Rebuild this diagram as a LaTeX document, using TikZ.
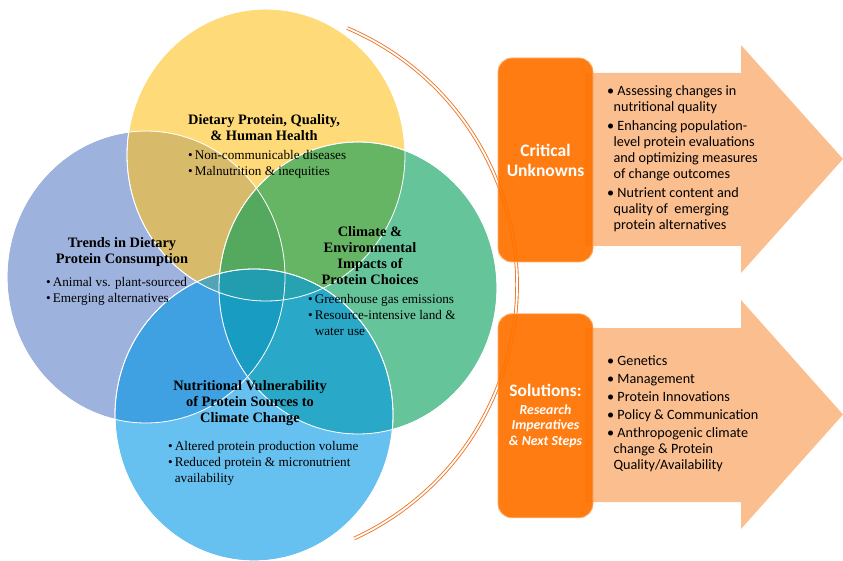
\documentclass[tikz,border=0pt]{standalone}
\usepackage{fontspec}
\setmainfont{Liberation Serif}
\newfontfamily\calibri{Carlito}
\usetikzlibrary{positioning}

\definecolor{vpurple}{RGB}{93,127,200}
\definecolor{vyellow}{RGB}{255,193,30}
\definecolor{vgreen}{RGB}{0,157,88}
\definecolor{vblue}{RGB}{0,150,230}
\definecolor{boxorange}{RGB}{255,114,0}
\definecolor{boxedge}{RGB}{255,175,110}
\definecolor{peach}{RGB}{251,190,143}
\definecolor{arcorange}{RGB}{240,118,40}

\newcommand{\bul}{\textbullet\hspace{2pt}}
\newcommand{\bulgap}{\hphantom{\textbullet\hspace{2pt}}}

\begin{document}
\begin{tikzpicture}[x=1pt, y=-1pt,
  venn/.style={draw=white, line width=0.8pt, fill opacity=0.6},
  title/.style={font=\fontsize{14.4}{16}\selectfont\bfseries, align=center, inner sep=0pt},
  bullets/.style={font=\fontsize{13.2}{15.7}\selectfont, align=left, anchor=west, inner sep=0pt},
  orgbox/.style={rectangle, draw=boxedge, line width=0.8pt, fill=boxorange, fill opacity=0.93, text opacity=1, text=white, rounded corners=14pt, minimum width=95pt, minimum height=204pt, align=center, font=\calibri\bfseries},
  list/.style={font=\calibri\fontsize{14.2}{16}\selectfont, align=left, anchor=west, inner sep=0pt},
  bracket/.style={draw=arcorange, line width=0.9pt, double=white, double distance=1.8pt}
]
\useasboundingbox (0,0) rectangle (843,561);

% Venn circles
\fill[venn, fill=vpurple] (146,277) ellipse [x radius=139, y radius=146];
\fill[venn, fill=vyellow] (266,155) ellipse [x radius=139, y radius=146];
\fill[venn, fill=vgreen] (358,288) ellipse [x radius=139, y radius=146];
\fill[venn, fill=vblue] (254,415) ellipse [x radius=139, y radius=146];
\draw[white, line width=0.8pt] (146,277) ellipse [x radius=139, y radius=146];
\draw[white, line width=0.8pt] (266,155) ellipse [x radius=139, y radius=146];
\draw[white, line width=0.8pt] (358,288) ellipse [x radius=139, y radius=146];
\draw[white, line width=0.8pt] (254,415) ellipse [x radius=139, y radius=146];

% Circle texts
\node (health) [title] at (264,128) {Dietary Protein, Quality,\\\& Human Health};
\node (healthlist) [bullets] at (188,164) {\bul Non-communicable diseases\\\bul Malnutrition \& inequities};

\node (trends) [title] at (122,252) {Trends in Dietary\\Protein Consumption};
\node (trendslist) [bullets] at (46,291) {\bul Animal vs. plant-sourced\\\bul Emerging alternatives};

\node (climate) [title] at (370,255.5) {Climate \&\\Environmental\\Impacts of\\Protein Choices};
\node (climatelist) [bullets] at (308,315) {\bul Greenhouse gas emissions\\\bul Resource-intensive land \&\\\bulgap water use};

\node (vuln) [title] at (250,403) {Nutritional Vulnerability\\of Protein Sources to\\Climate Change};
\node (vulnlist) [bullets] at (168,463.5) {\bul Altered protein production volume\\\bul Reduced protein \& micronutrient\\\bulgap availability};

% Bracket
\coordinate (arctop) at (347,28);
\draw[bracket] (arctop) arc [start angle=-67, end angle=65.4, radius=279];

% Arrows
\fill[peach] (585,73) -- (741,73) -- (741,45) -- (843,159) -- (741,273) -- (741,246) -- (585,246) -- cycle;
\fill[peach] (585,328) -- (741,328) -- (741,300) -- (843,414.5) -- (741,529) -- (741,502) -- (585,502) -- cycle;

% Boxes
\node (unknowns) [orgbox, font=\calibri\bfseries\fontsize{17.5}{20}\selectfont] at (545.5,160) {Critical\\Unknowns};
\node (solutions) [orgbox, font=\calibri\bfseries\fontsize{13.8}{15.5}\selectfont, below=51pt of unknowns]
  {\fontsize{17.5}{18}\selectfont Solutions:\\[2pt]\itshape Research\\\itshape Imperatives\\\itshape \& Next Steps};

% Lists
\node (unknownlist) [list] at (607,159) {\textbullet\ Assessing changes in\\\hspace*{0.45em}nutritional quality\\[3pt]
\textbullet\ Enhancing population-\\\hspace*{0.45em}level protein evaluations\\\hspace*{0.45em}and optimizing measures\\\hspace*{0.45em}of change outcomes\\[3pt]
\textbullet\ Nutrient content and\\\hspace*{0.45em}quality of~ emerging\\\hspace*{0.45em}protein alternatives};
\node (solutionlist) [list] at (607,413.5) {\textbullet\ Genetics\\[2pt]\textbullet\ Management\\[2pt]\textbullet\ Protein Innovations\\[2pt]\textbullet\ Policy \& Communication\\[2pt]
\textbullet\ Anthropogenic climate\\\hspace*{0.45em}change \& Protein\\\hspace*{0.45em}Quality/Availability};
\end{tikzpicture}
\end{document}
